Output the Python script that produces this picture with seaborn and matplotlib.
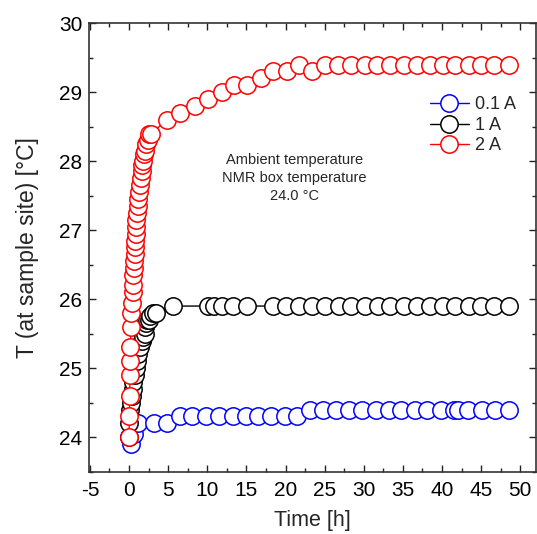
import matplotlib
matplotlib.use("Agg")
import matplotlib.pyplot as plt
from matplotlib.ticker import MultipleLocator
import seaborn as sns
import pandas as pd

# ---- data ----
t_01 = [0.0, 0.2, 0.6, 1.2, 3.2, 4.9, 6.5, 8.1, 9.8, 11.5, 13.3, 14.9, 16.5, 18.2,
        19.9, 21.5, 23.1, 24.8, 26.5, 28.1, 29.8, 31.5, 33.2, 34.8, 36.5, 38.1,
        39.9, 41.5, 42.1, 43.3, 45.1, 46.8, 48.5]
T_01 = [24.0, 23.9, 24.05, 24.2, 24.2, 24.2, 24.3, 24.3, 24.3, 24.3, 24.3, 24.3, 24.3, 24.3,
        24.3, 24.3, 24.4, 24.4, 24.4, 24.4, 24.4, 24.4, 24.4, 24.4, 24.4, 24.4,
        24.4, 24.4, 24.4, 24.4, 24.4, 24.4, 24.4]

t_1 = [0.0, 0.05, 0.1, 0.2, 0.35, 0.45, 0.55, 0.7, 0.85, 1.0, 1.2, 1.4, 1.6, 1.8, 2.0,
       2.1, 2.2, 2.3, 2.5, 2.7, 3.0, 3.5, 5.6, 10.1, 10.8, 11.9, 13.3, 15.1, 18.4,
       20.0, 21.7, 23.4, 25.1, 26.8, 28.4, 30.1, 31.8, 33.4, 35.1, 36.8, 38.4, 40.1,
       41.7, 43.4, 45.0, 46.7, 48.5]
T_1 = [24.0, 24.2, 24.4, 24.5, 24.6, 24.7, 24.8, 24.9, 25.0, 25.1, 25.2, 25.3, 25.4, 25.45, 25.5,
       25.6, 25.65, 25.7, 25.7, 25.75, 25.8, 25.8, 25.9, 25.9, 25.9, 25.9, 25.9, 25.9, 25.9,
       25.9, 25.9, 25.9, 25.9, 25.9, 25.9, 25.9, 25.9, 25.9, 25.9, 25.9, 25.9, 25.9,
       25.9, 25.9, 25.9, 25.9, 25.9]

t_2 = [0.0, 0.05, 0.1, 0.1, 0.12, 0.15, 0.25, 0.3, 0.38, 0.45, 0.5, 0.55, 0.6, 0.65, 0.7,
       0.75, 0.8, 0.85, 0.9, 0.95, 1.0, 1.1, 1.2, 1.3, 1.4, 1.5, 1.6, 1.7, 1.8, 1.9,
       2.0, 2.2, 2.4, 2.6, 2.8, 4.9, 6.5, 8.4, 10.1, 11.9, 13.4, 15.1, 16.8, 18.4, 20.2,
       21.7, 23.4, 25.1, 26.7, 28.4, 30.1, 31.7, 33.4, 35.1, 36.8, 38.4, 40.1, 41.7,
       43.4, 45.0, 46.7, 48.5]
T_2 = [24.0, 24.3, 24.6, 24.9, 25.1, 25.3, 25.6, 25.8, 25.95, 26.1, 26.2, 26.35, 26.45, 26.55, 26.65,
       26.75, 26.85, 26.95, 27.05, 27.15, 27.25, 27.35, 27.45, 27.55, 27.65, 27.75, 27.85, 27.95, 28.0, 28.1,
       28.15, 28.25, 28.3, 28.4, 28.4, 28.6, 28.7, 28.8, 28.9, 29.0, 29.1, 29.1, 29.2, 29.3, 29.3,
       29.4, 29.3, 29.4, 29.4, 29.4, 29.4, 29.4, 29.4, 29.4, 29.4, 29.4, 29.4, 29.4,
       29.4, 29.4, 29.4, 29.4]

labels = ["0.1 A", "1 A", "2 A"]
colors = ["#0000ff", "#000000", "#ff0000"]
annotation = "Ambient temperature\nNMR box temperature\n24.0 °C"

# ---- plot ----
sns.set_style("ticks")
plt.rcParams["font.family"] = ["Liberation Sans", "DejaVu Sans"]
plt.rcParams["axes.unicode_minus"] = False

fig = plt.figure(figsize=(5.37, 5.34), dpi=100)
ax = fig.add_axes([0.166, 0.1167, 0.832, 0.84])

series = [(t_01, T_01), (t_1, T_1), (t_2, T_2)]
for (tt, TT), lab, col in zip(series, labels, colors):
    df = pd.DataFrame({"t": tt, "T": TT})
    sns.lineplot(data=df, x="t", y="T", ax=ax, estimator=None, sort=False,
                 color=col, lw=1.0, marker="o", markersize=12.5,
                 markerfacecolor="white", markeredgecolor=col, markeredgewidth=1.1,
                 label=lab)

ax.set_xlim(-5.1, 52.0)
ax.set_ylim(23.5, 30.0)
ax.xaxis.set_major_locator(MultipleLocator(5))
ax.xaxis.set_minor_locator(MultipleLocator(2.5))
ax.yaxis.set_major_locator(MultipleLocator(1))
ax.yaxis.set_minor_locator(MultipleLocator(0.5))
ax.tick_params(which="both", direction="in", top=True, right=True,
               labelsize=15, width=1.0, colors="#222222", labelcolor="black")
ax.tick_params(which="major", length=5)
ax.tick_params(which="minor", length=3)
ax.tick_params(axis="x", which="major", pad=7)
ax.tick_params(axis="y", which="major", pad=5)
for s in ax.spines.values():
    s.set_linewidth(1.2)
    s.set_color("#333333")

ax.set_xlabel("Time [h]", fontsize=15.5, labelpad=7)
ax.set_ylabel("T (at sample site) [°C]", fontsize=16.5, labelpad=14)

ax.text(21.1, 27.76, annotation, ha="center", va="center", fontsize=10.5,
        multialignment="center", linespacing=1.35)

leg = ax.legend(loc="upper left", bbox_to_anchor=(0.762, 0.837), frameon=False,
                fontsize=13, handlelength=2.2, handletextpad=0.3, labelspacing=0.2,
                borderpad=0, borderaxespad=0)

fig.savefig("out.png", dpi=100)
